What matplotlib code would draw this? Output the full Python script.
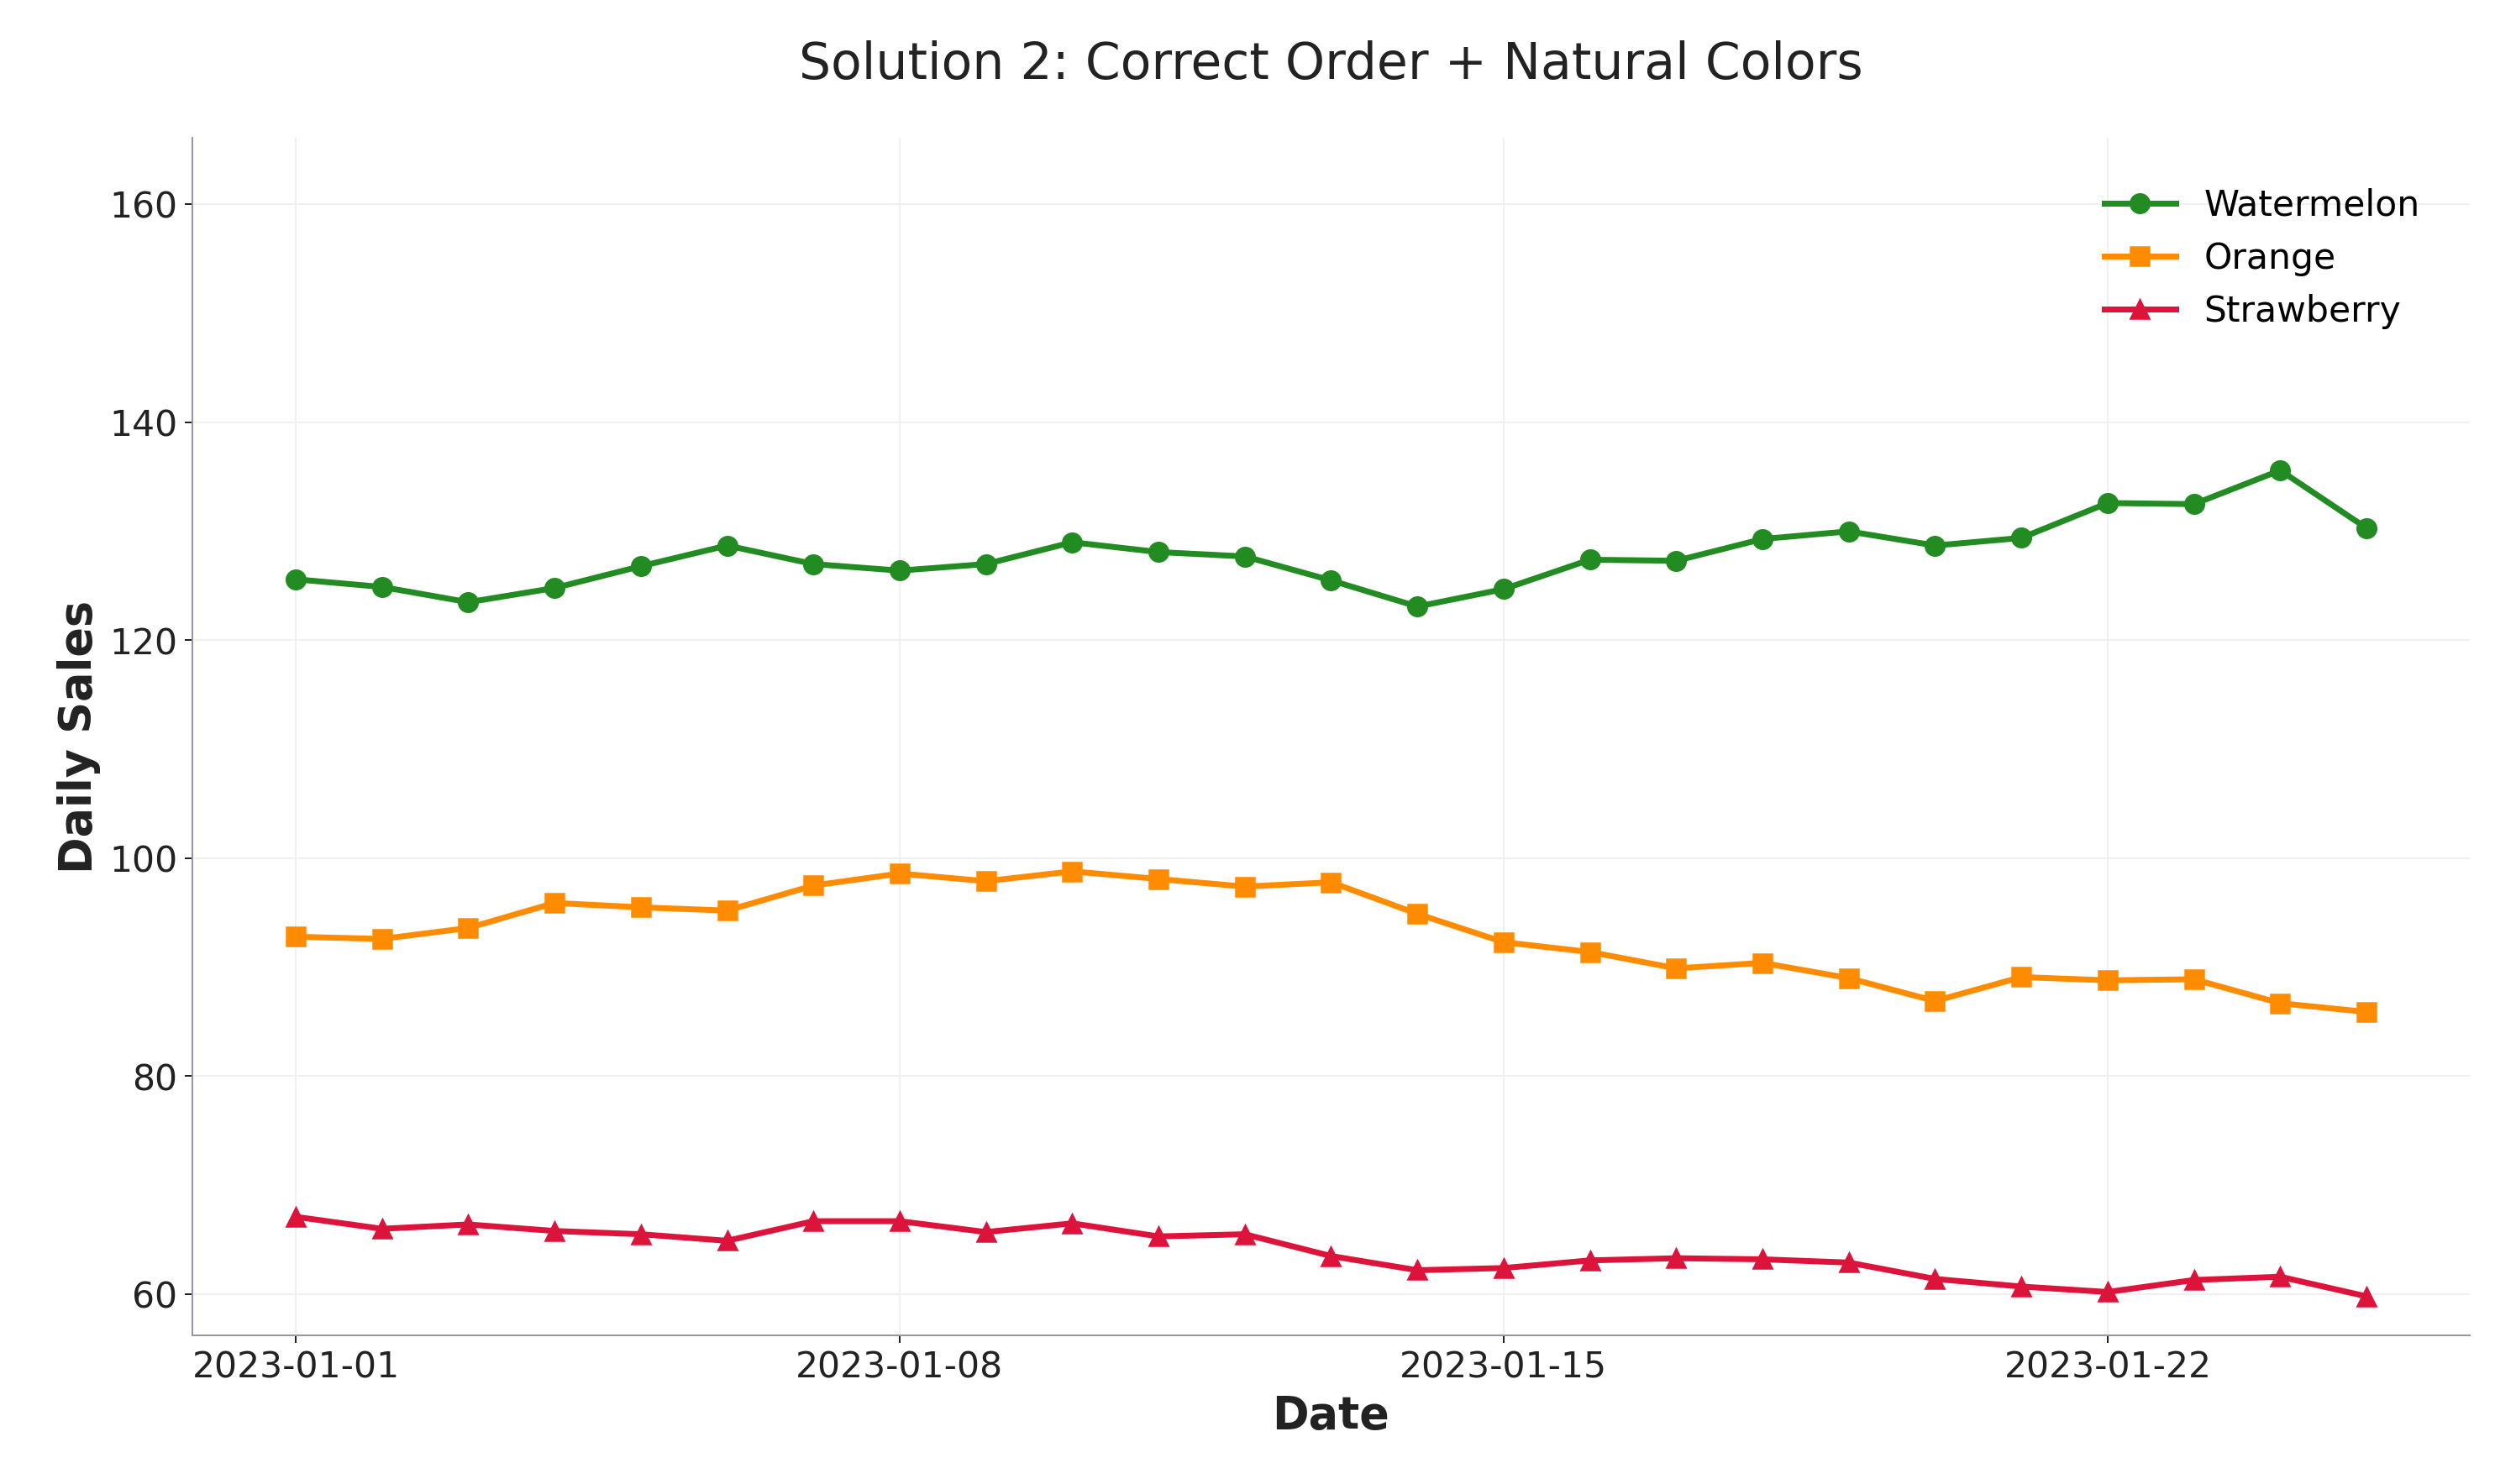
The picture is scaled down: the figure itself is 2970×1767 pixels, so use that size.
import matplotlib
matplotlib.use("Agg")
import matplotlib.pyplot as plt
import matplotlib.dates as mdates
import pandas as pd

dates = pd.date_range("2023-01-01", periods=25, freq="D")
watermelon = [125.6,124.9,123.5,124.8,126.8,128.7,127.0,126.4,127.0,129.0,128.1,127.7,125.5,123.1,124.7,127.4,127.3,129.3,130.0,128.7,129.4,132.6,132.5,135.6,130.3]
orange = [92.8,92.6,93.6,95.9,95.5,95.2,97.5,98.6,97.9,98.8,98.1,97.4,97.8,94.9,92.3,91.4,89.9,90.4,89.0,86.9,89.1,88.8,88.9,86.7,85.9]
strawberry = [67.1,66.0,66.4,65.8,65.5,64.9,66.7,66.7,65.7,66.5,65.3,65.5,63.5,62.2,62.4,63.1,63.3,63.2,62.9,61.4,60.7,60.2,61.3,61.6,59.8]

fig, ax = plt.subplots(figsize=(16.5, 9.817), dpi=180)
ax.plot(dates, watermelon, marker="o", color="#228B22", lw=2.8, ms=9, label="Watermelon")
ax.plot(dates, orange, marker="s", color="#FF8C00", lw=2.8, ms=9, label="Orange")
ax.plot(dates, strawberry, marker="^", color="#DC143C", lw=2.8, ms=9, label="Strawberry")
ax.set_ylim(56.2, 166.1)
ax.set_yticks([60, 80, 100, 120, 140, 160])
ax.xaxis.set_major_locator(mdates.DayLocator(bymonthday=[1, 8, 15, 22]))
ax.xaxis.set_major_formatter(mdates.DateFormatter("%Y-%m-%d"))
ax.tick_params(labelsize=17, colors="#222222")
ax.grid(True, color="#f0f0f0", lw=0.8)
for s in ["top", "right"]:
    ax.spines[s].set_visible(False)
for s in ["left", "bottom"]:
    ax.spines[s].set_color("#9a94a8")
ax.set_xlabel("Date", fontsize=21, fontweight="bold", color="#222222")
ax.set_ylabel("Daily Sales", fontsize=21, fontweight="bold", color="#222222")
ax.set_title("Solution 2: Correct Order + Natural Colors", fontsize=24, pad=28, color="#222222")
ax.legend(frameon=False, fontsize=17, loc="upper right", borderaxespad=1.0)
fig.subplots_adjust(left=0.077, right=0.99, top=0.907, bottom=0.1)
fig.savefig("out.png", dpi=180)
